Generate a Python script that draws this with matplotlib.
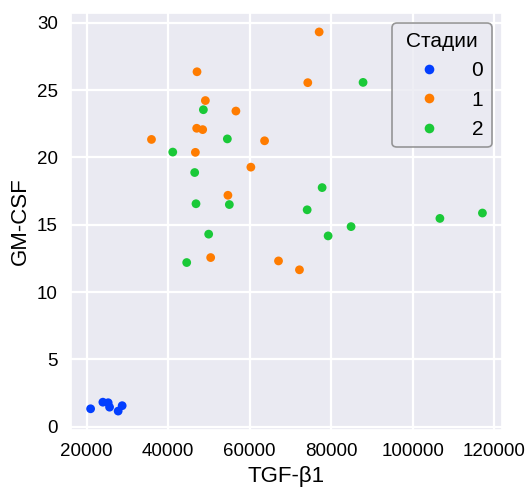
import matplotlib
matplotlib.use("Agg")
import matplotlib.pyplot as plt
import seaborn as sns
import pandas as pd

# TGF-beta1 / GM-CSF values by stage
stage0_tgf = [20980, 23990, 25290, 25630, 27740, 28720]
stage0_gm = [1.32, 1.81, 1.77, 1.44, 1.15, 1.55]

stage1_tgf = [47080, 74250, 49130, 56620, 47000, 48470, 35910, 63650,
              46680, 60290, 54660, 77040, 50430, 67070, 72210]
stage1_gm = [26.37, 25.56, 24.23, 23.45, 22.17, 22.07, 21.34, 21.24,
             20.38, 19.28, 17.19, 29.33, 12.56, 12.31, 11.65]

stage2_tgf = [48640, 54520, 41130, 46510, 46830, 55010, 74100, 87810,
              77770, 84870, 106660, 117090, 49940, 44550, 79240]
stage2_gm = [23.55, 21.38, 20.40, 18.88, 16.56, 16.50, 16.11, 25.58,
             17.76, 14.86, 15.47, 15.87, 14.30, 12.19, 14.17]

df = pd.DataFrame({
    "TGF-β1": stage0_tgf + stage1_tgf + stage2_tgf,
    "GM-CSF": stage0_gm + stage1_gm + stage2_gm,
    "Стадии": [0] * len(stage0_tgf) + [1] * len(stage1_tgf) + [2] * len(stage2_tgf),
})

sns.set_theme(style="darkgrid", rc={"grid.linewidth": 1.6,
                                    "text.color": "black",
                                    "axes.labelcolor": "black",
                                    "xtick.color": "black",
                                    "ytick.color": "black"})
plt.rcParams["font.family"] = ["Liberation Sans", "DejaVu Sans"]

fig = plt.figure(figsize=(5.28, 4.9), dpi=100)
ax = fig.add_axes([0.1345, 0.1224, 0.8163, 0.8511])

sns.scatterplot(data=df, x="TGF-β1", y="GM-CSF", hue="Стадии",
                palette="bright", s=40, linewidth=0, ax=ax)

ax.tick_params(labelsize=13.5)
ax.set_xlabel("TGF-β1", fontsize=16)
ax.set_ylabel("GM-CSF", fontsize=16)
ax.set_xticks([20000, 40000, 60000, 80000, 100000, 120000])
ax.set_yticks([0, 5, 10, 15, 20, 25, 30])

leg = ax.legend(title="Стадии", loc="upper right", fontsize=15,
                title_fontsize=15, handlelength=2.7, handletextpad=0.7,
                markerscale=1.1)
leg.get_frame().set_edgecolor("0.5")
leg.get_frame().set_linewidth(1.2)

fig.savefig("out.png", dpi=100)
